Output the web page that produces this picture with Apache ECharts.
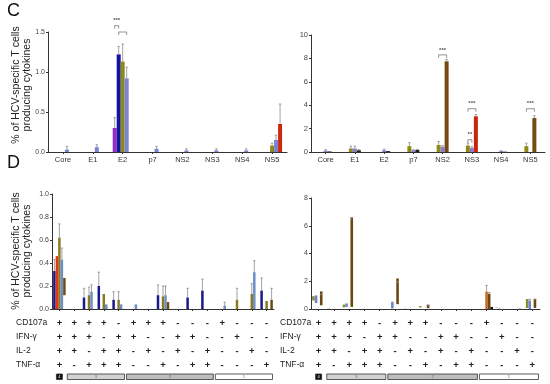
<!DOCTYPE html>
<html><head><meta charset="utf-8">
<script src="https://cdn.jsdelivr.net/npm/echarts@6/dist/echarts.min.js"></script>
<style>html,body{margin:0;padding:0;background:#fff}#c{width:550px;height:384px}</style>
</head><body><div id="c"></div>
<script>
// ---------- DATA ----------
const catsC = ['Core','E1','E2','p7','NS2','NS3','NS4','NS5'];
// Panel C left (slots: purple, navy, olive, slate, red)
const clPurple = [0,0,0.30,0,0,0,0,0];
const clNavy   = [0,0,1.22,0,0,0,0,0];
const clOlive  = [0,0,1.13,0,0,0,0,0.08];
const clSlate  = [0.03,0.06,0.92,0.04,0.02,0.02,0.02,0.15];
const clRed    = [0,0,0,0,0,0,0,0.35];
const clPurpleErr = [0,0,0.13,0,0,0,0,0];
const clNavyErr   = [0,0,0.10,0,0,0,0,0];
const clOliveErr  = [0,0,0.22,0,0,0,0,0.03];
const clSlateErr  = [0.04,0.03,0.14,0.03,0.02,0.02,0.02,0.06];
const clRedErr    = [0,0,0,0,0,0,0,0.25];
// Panel C right (slots: olive, slate, third slot = dark/brown/red)
const crOlive = [0,0.30,0,0.50,0.60,0.55,0,0.50];
const crSlate = [0.12,0.30,0.15,0.15,0.45,0.35,0.08,0];
const crDark  = [0.05,0.15,0.08,0.18,0,0,0.03,0];
const crBrown = [0,0,0,0,7.75,0,0,2.90];
const crRed   = [0,0,0,0,0,3.05,0,0];
const crOliveErr = [0,0.20,0,0.30,0.30,0.20,0,0.25];
const crSlateErr = [0.08,0.20,0.10,0.05,0.10,0.10,0.03,0];
const crDarkErr  = [0,0.05,0,0.05,0,0,0,0];
const crBrownErr = [0,0,0,0,0.15,0,0,0.20];
const crRedErr   = [0,0,0,0,0,0.15,0,0];
// Panel D: Boolean combinations
const markers = ['CD107a','IFN-γ','IL-2','TNF-α'];
const rowCD107a = ['+','+','+','+','-','+','+','+','-','-','-','+','-','-','-'];
const rowIFNg   = ['+','+','+','-','+','+','-','-','+','+','-','-','+','-','-'];
const rowIL2    = ['+','+','-','+','+','-','+','-','+','-','+','-','-','+','-'];
const rowTNFa   = ['+','-','+','+','+','-','-','+','-','+','+','-','-','-','+'];
const groupLabels = ['4','3','2','1'];
const groupStart  = [0,1,5,11];
const groupEnd    = [0,4,10,14];
// Panel D left (slots: navy, red, olive, slate, brown)
const dlNavy  = [0.33,0,0.10,0.20,0.08,0,0,0.12,0,0.10,0.16,0,0,0,0.16];
const dlRed   = [0.46,0,0,0,0,0,0,0,0,0,0,0,0,0,0];
const dlOlive = [0.62,0,0.12,0.13,0.08,0,0,0.11,0,0,0,0,0.08,0.13,0.07];
const dlSlate = [0.43,0,0.15,0.04,0.04,0.04,0,0.12,0,0,0,0.03,0,0.32,0];
const dlBrown = [0.15,0,0,0,0,0,0,0.06,0,0,0,0,0,0,0.08];
const dlNavyErr  = [0.10,0,0.08,0.12,0.07,0,0,0.09,0,0.08,0.10,0,0,0,0.11];
const dlRedErr   = [0,0,0,0,0,0,0,0,0,0,0,0,0,0,0];
const dlOliveErr = [0.12,0,0.07,0,0.07,0,0,0.09,0,0,0,0,0.10,0.09,0];
const dlSlateErr = [0.10,0,0.06,0,0,0,0,0.08,0,0,0,0.03,0,0.10,0];
const dlBrownErr = [0,0,0,0,0,0,0,0,0,0,0,0,0,0,0.10];
// Panel D right (slots: olive, slate, orange, brown, black)
const drOlive  = [0.30,0.02,0.20,0,0,0,0.02,0.10,0,0,0,0,0.03,0,0.65];
const drSlate  = [0.55,0,0.25,0,0,0.45,0,0,0,0,0,0,0.03,0,0.60];
const drOrange = [0,0,0,0,0,0,0,0,0,0,0,1.25,0,0,0];
const drBrown  = [1.00,0,6.45,0,0,1.85,0,0.25,0,0,0,1.10,0,0.02,0.65];
const drBlack  = [0,0,0,0,0,0,0,0,0,0,0,0.15,0,0,0];
const drSlateErr  = [0.05,0,0,0,0,0.05,0,0,0,0,0,0,0,0,0.10];
const drOrangeErr = [0,0,0,0,0,0,0,0,0,0,0,0.45,0,0,0];
const drBrownErr  = [0.05,0,0.15,0,0,0.12,0,0.03,0,0,0,0.10,0,0,0.05];
// Significance brackets: [panel, category, slotA, slotB, yLine, text]
const brackets = [
  [0, 2, 0, 1, 1.58, '***'],
  [0, 2, 1, 3, 1.50, ''],
  [1, 4, 0, 2, 8.30, '***'],
  [1, 5, 0, 2, 3.70, '***'],
  [1, 5, 0, 1, 1.05, '**'],
  [1, 7, 0, 2, 3.70, '***']
];

// ---------- LAYOUT ----------
const panels = [
  {grid:{left:48, top:32, width:239, height:120}, n:5, bw:4, max:1.5, interval:0.5, dec:1, font:7},
  {grid:{left:311, top:35, width:234, height:117}, n:3, bw:4, max:10, interval:2, dec:0, font:7.5},
  {grid:{left:52, top:194, width:222, height:115}, n:5, bw:2.5, max:1.0, interval:0.2, dec:1, font:7},
  {grid:{left:311, top:198, width:229, height:111}, n:5, bw:2.6, max:8, interval:2, dec:0, font:7}
];
const catsD = rowCD107a.map((v,i)=>[rowCD107a[i],rowIFNg[i],rowIL2[i],rowTNFa[i]].join('\n'));

const FONT = 'Liberation Sans, Arial, sans-serif';
const grids = panels.map(p=>Object.assign({outerBoundsMode:'none', containLabel:false}, p.grid));
const xAxes = panels.map((p,i)=>({
  type:'category', gridIndex:i, data: i<2 ? catsC : catsD,
  axisLine:{lineStyle:{color:'#333', width:1}},
  axisTick:{show:true, alignWithLabel:true, length:2, lineStyle:{color:'#333'}},
  axisLabel: i<2 ? {fontSize:7.5, color:'#333', margin:4, fontFamily:FONT, interval:0}
    : {fontSize:9.5, fontWeight:'bold', color:'#222', margin:7, lineHeight:14, interval:0, fontFamily:FONT}
}));
const yAxes = panels.map((p,i)=>({
  type:'value', gridIndex:i, min:0, max:p.max, interval:p.interval,
  splitLine:{show:false},
  axisLine:{show:true, lineStyle:{color:'#333', width:1}},
  axisTick:{show:true, length:2, lineStyle:{color:'#333'}},
  axisLabel:{fontSize:p.font, color:'#444', margin:3, fontFamily:FONT, formatter:v=>v.toFixed(p.dec)}
}));

const series = [];
function addBars(pi, list){
  const p = panels[pi];
  const errData = [];
  list.forEach(([vals, errs, color, stack, slot])=>{
    series.push({type:'bar', xAxisIndex:pi, yAxisIndex:pi, data:vals.map(v=>v>0?v:'-'),
      itemStyle:{color:color}, barWidth:p.bw, barGap:'0%', stack:stack, z:2, silent:true});
    if(errs) errs.forEach((e,c)=>{ if(e>0) errData.push([c, slot, vals[c], e]); });
  });
  series.push({type:'custom', xAxisIndex:pi, yAxisIndex:pi, data:errData, encode:{x:0,y:2}, z:3, silent:true,
    renderItem:(params, api)=>{
      const c = api.value(0), s = api.value(1), v = api.value(2), e = api.value(3);
      const a = api.coord([c, v]), b = api.coord([c, v+e]);
      const x = a[0] + (s - (p.n-1)/2)*p.bw;
      return {type:'group', children:[
        {type:'line', shape:{x1:x, y1:a[1], x2:x, y2:b[1]}, style:{stroke:'#8a8a8a', lineWidth:0.8}},
        {type:'line', shape:{x1:x-1.2, y1:b[1], x2:x+1.2, y2:b[1]}, style:{stroke:'#8a8a8a', lineWidth:0.8}}
      ]};
    }});
}
addBars(0, [
  [clPurple, clPurpleErr, '#9030c8', 's0', 0],
  [clNavy, clNavyErr, '#1414a0', 's1', 1],
  [clOlive, clOliveErr, '#8c8a1c', 's2', 2],
  [clSlate, clSlateErr, '#7b84d2', 's3', 3],
  [clRed, clRedErr, '#cc2a10', 's4', 4]
]);
addBars(1, [
  [crOlive, crOliveErr, '#8e8a14', 'a', 0],
  [crSlate, crSlateErr, '#8c7cd4', 'b', 1],
  [crDark, crDarkErr, '#1e2a10', 'c', 2],
  [crBrown, crBrownErr, '#744a12', 'c', 2],
  [crRed, crRedErr, '#c8240e', 'c', 2]
]);
addBars(2, [
  [dlNavy, dlNavyErr, '#18188c', 'n', 0],
  [dlRed, dlRedErr, '#e8321e', 'r', 1],
  [dlOlive, dlOliveErr, '#8a7a22', 'o', 2],
  [dlSlate, dlSlateErr, '#6e8ec8', 's', 3],
  [dlBrown, dlBrownErr, '#6e4a1a', 'b', 4]
]);
addBars(3, [
  [drOlive, null, '#8a8a30', 'o', 0],
  [drSlate, drSlateErr, '#7480d0', 's', 1],
  [drOrange, drOrangeErr, '#c86c2c', 'r', 2],
  [drBrown, drBrownErr, '#6c4810', 'b', 3],
  [drBlack, null, '#111111', 'k', 4]
]);

const chart = echarts.init(document.getElementById('c'), null, {renderer:'canvas'});
chart.setOption({animation:false, backgroundColor:'#fff', grid:grids, xAxis:xAxes, yAxis:yAxes, series:series});

// ---------- ANNOTATIONS ----------
const g = [];
g.push({type:'text', left:7, top:2, style:{text:'C', font:'18px '+FONT, fill:'#111'}});
g.push({type:'text', left:7, top:154, style:{text:'D', font:'18px '+FONT, fill:'#111'}});
[[22,85],[22,251]].forEach(([x,y])=>{
  g.push({type:'text', x:x, y:y, rotation:Math.PI/2,
    style:{text:'% of HCV-specific T cells\nproducing cytokines', font:'10.5px '+FONT, fill:'#222', align:'center', verticalAlign:'middle', lineHeight:11}});
});
[16, 280].forEach(x=>{
  markers.forEach((m,i)=>{
    g.push({type:'text', x:x, y:323+i*14, style:{text:m, font:'8.5px '+FONT, fill:'#222', verticalAlign:'middle'}});
  });
});
[2,3].forEach(pi=>{
  const band = panels[pi].grid.width/15;
  groupLabels.forEach((lab,k)=>{
    const xa = chart.convertToPixel({xAxisIndex:pi, yAxisIndex:pi}, [groupStart[k], 0])[0];
    const xb = chart.convertToPixel({xAxisIndex:pi, yAxisIndex:pi}, [groupEnd[k], 0])[0];
    let x1, x2;
    if(k===0){ x1 = xa-3; x2 = xa+3; } else { x1 = xa-band/2+0.5; x2 = xb+band/2-1.5; }
    const fill = k===0 ? '#111' : (k===1 ? '#d2d2d2' : (k===2 ? '#bdbdbd' : '#fff'));
    g.push({type:'rect', shape:{x:x1, y:374, width:x2-x1, height:5.5}, style:{fill:fill, stroke:'#333', lineWidth:0.8}});
    g.push({type:'text', x:(x1+x2)/2, y:377, style:{text:lab, font:'4px '+FONT, fill:k===0?'#fff':'#666', align:'center', verticalAlign:'middle'}});
  });
});
brackets.forEach(([pi, c, sa, sb, y, txt])=>{
  const p = panels[pi];
  const base = chart.convertToPixel({xAxisIndex:pi, yAxisIndex:pi}, [c, y]);
  const xa = base[0] + (sa-(p.n-1)/2)*p.bw, xb = base[0] + (sb-(p.n-1)/2)*p.bw;
  const leg = 3;
  g.push({type:'polyline', shape:{points:[[xa,base[1]+leg],[xa,base[1]],[xb,base[1]],[xb,base[1]+leg]]}, style:{stroke:'#777', lineWidth:0.8, fill:null}});
  if(txt) g.push({type:'text', x:(xa+xb)/2, y:base[1]-2, style:{text:txt, font:'bold 6px '+FONT, fill:'#555', align:'center', verticalAlign:'bottom'}});
});
chart.setOption({graphic:g});
</script></body></html>
